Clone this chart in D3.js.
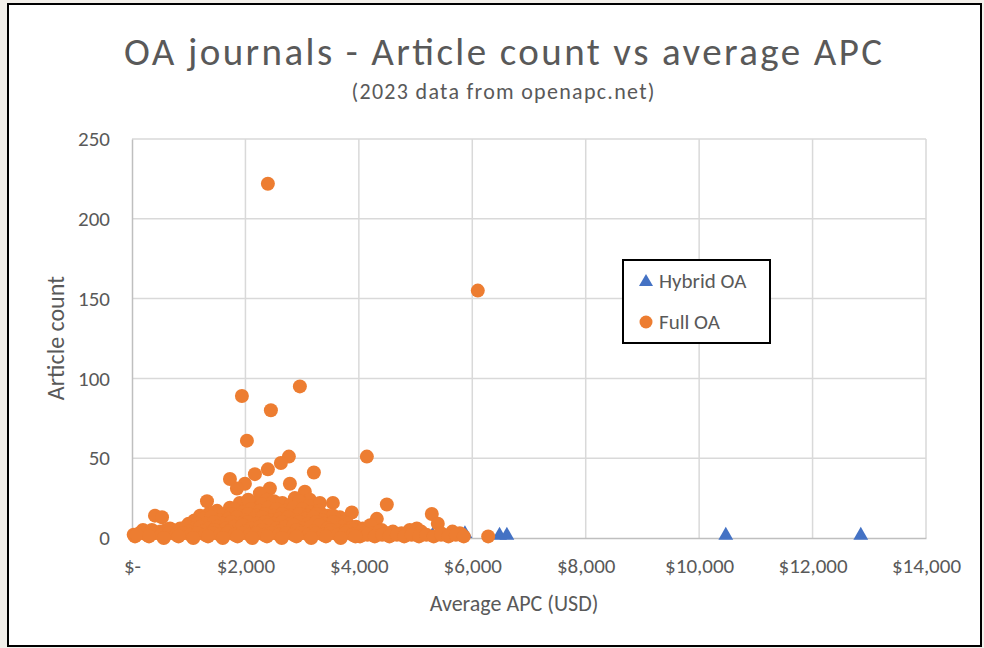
<!DOCTYPE html>
<html>
<head>
<meta charset="utf-8">
<script src="https://cdn.jsdelivr.net/npm/d3@7"></script>
<style>
  body { margin: 0; background: #f2efea; }
  svg { display: block; font-family: Carlito, Lato, sans-serif; }
</style>
</head>
<body>
<svg id="chart" width="984" height="648"></svg>
<script>
// Hybrid OA journals (avg APC in USD, article count)
const hybridApc   = [4150, 4990, 5300, 5600, 5870, 6480, 6610, 10470, 12850];
const hybridCount = [1, 1, 1, 1, 2, 1, 1, 1, 1];

// Full OA journals - outliers first, then the crowded part near zero
const fullApc = [
  2396, 6097, 2960, 1938, 2449, 2026, 4141, 2766, 2625, 2396, 2167, 3207, 1727, 1991, 2784,
  1850, 2431, 3048, 2255, 1322, 2872, 3136, 2202, 3313, 3542, 4493, 1727, 2026, 2378, 3876,
  405, 529, 1233, 4317, 5286, 3665, 5392, 4070, 5022, 4898, 5780, 6280, 5815, 1022, 670, 194, 53,
  1900, 2050, 2300, 2500, 2650, 2800, 2950, 3100,
  1500, 1650, 1800, 1950, 2100, 2250, 2400, 2550, 2700, 2850, 3000, 3150, 3300, 3450, 3600, 3750,
  1200, 1350, 1450, 1600, 1750, 1900, 2050, 2200, 2350, 2500, 2650, 2800, 2950, 3100, 3250, 3400, 3550,
  1100, 1250, 1400, 1550, 1700, 1850, 2000, 2150, 2300, 2450, 2600, 2750, 2900, 3050, 3200, 3350,
  3500, 3650, 3800, 3950, 4200,
  1000, 1150, 1300, 1450, 1600, 1750, 1900, 2050, 2200, 2350, 2500, 2650, 2800, 2950, 3100, 3250,
  3400, 3550, 3700, 3850, 4000,
  700, 850, 950, 1100, 1200, 1350, 1500, 1650, 1800, 1950, 2100, 2250, 2400, 2550, 2700, 2850,
  3000, 3150, 3300, 3450, 3600, 3750, 3900, 4050, 4250, 4400, 4600,
  200, 350, 500, 600, 750, 1000, 1250, 1450, 1700, 2000, 2300, 2600, 2900, 3200, 3500, 3800,
  4100, 4350, 4500, 4750, 5100, 5450, 5650,
  30, 130, 260, 390, 520, 650, 780, 900, 1030, 1160, 1290, 1420, 1550, 1680, 1810, 1940, 2070,
  2200, 2330, 2460, 2590, 2720, 2850, 2980, 3110, 3240, 3370, 3500, 3630, 3760, 3890, 4020, 4150,
  4280, 4410, 4540, 4670, 4800, 4930, 5060, 5190, 5320, 5450, 5580, 5710, 5850,
  80, 300, 560, 820, 1080, 1340, 1600, 1860, 2120, 2380, 2640, 2900, 3160, 3420, 3680, 3940
];
const fullCount = [
  222, 155, 95, 89, 80, 61, 51, 51, 47, 43, 40, 41, 37, 34, 34,
  31, 31, 29, 28, 23, 25, 24, 22, 22, 22, 21, 19, 21, 24, 16,
  14, 13, 12, 12, 15, 13, 9, 6, 6, 5, 3, 1, 2, 8, 6, 5, 1,
  22, 24, 21, 23, 22, 21, 23, 20,
  17, 15, 18, 16, 18, 17, 19, 18, 17, 19, 18, 16, 17, 14, 11, 10,
  14, 15, 16, 14, 15, 14, 15, 14, 15, 14, 15, 14, 15, 14, 15, 13, 14,
  11, 12, 13, 11, 12, 13, 11, 12, 13, 11, 12, 13, 11, 12, 13, 11,
  9, 8, 9, 7, 8,
  9, 9, 9, 10, 9, 10, 9, 10, 9, 10, 9, 10, 9, 10, 9, 10,
  9, 10, 7, 6, 5,
  5, 6, 7, 6, 7, 6, 7, 6, 7, 8, 6, 7, 8, 6, 7, 8,
  6, 7, 8, 6, 5, 4, 5, 4, 3, 5, 4,
  4, 5, 4, 5, 4, 4, 4, 5, 4, 4, 5, 4, 5, 4, 5, 4,
  3, 4, 3, 3, 4, 3, 4,
  2, 3, 2, 3, 2, 3, 2, 3, 2, 3, 2, 3, 2, 3, 2, 3, 2,
  3, 2, 3, 2, 3, 2, 3, 2, 3, 2, 3, 2, 3, 2, 1, 2,
  1, 2, 1, 2, 1, 2, 1, 2, 1, 2, 1, 2, 1, 2, 1,
  0, 1, 0, 1, 0, 1, 0, 1, 0, 1, 0, 1, 0, 1, 0, 1
];

const xTicks = [0, 2000, 4000, 6000, 8000, 10000, 12000, 14000];
const yTicks = [0, 50, 100, 150, 200, 250];

const svg = d3.select("#chart");
const textCol = "#595959";

// chart frame
svg.append("rect")
  .attr("x", 8).attr("y", 4).attr("width", 973).attr("height", 642)
  .attr("fill", "#fff").attr("stroke", "#000").attr("stroke-width", 2);

const x = d3.scaleLinear().domain([0, 14000]).range([132, 926]);
const y = d3.scaleLinear().domain([0, 250]).range([538, 139]);

// gridlines
svg.append("g").selectAll("line").data(yTicks.filter(d => d > 0)).enter().append("line")
  .attr("x1", x(0)).attr("x2", x(14000))
  .attr("y1", d => y(d)).attr("y2", d => y(d))
  .attr("stroke", "#d9d9d9").attr("stroke-width", 1.5);
svg.append("g").selectAll("line").data(xTicks.filter(d => d > 0)).enter().append("line")
  .attr("x1", d => x(d)).attr("x2", d => x(d))
  .attr("y1", y(0)).attr("y2", y(250))
  .attr("stroke", "#d9d9d9").attr("stroke-width", 1.5);

// axes
const fmt = d3.format(",");
const xAxis = svg.append("g").attr("transform", "translate(0," + y(0) + ")")
  .call(d3.axisBottom(x).tickValues(xTicks).tickSize(0).tickPadding(20)
    .tickFormat(d => d === 0 ? "$-" : "$" + fmt(d)));
const yAxis = svg.append("g").attr("transform", "translate(" + x(0) + ",0)")
  .call(d3.axisLeft(y).tickValues(yTicks).tickSize(0).tickPadding(22));
[xAxis, yAxis].forEach(a => {
  a.select(".domain").attr("stroke", "#bfbfbf").attr("stroke-width", 1.5);
  a.selectAll("text").attr("fill", textCol).attr("font-size", 21).attr("font-family", "Carlito, Lato, sans-serif");
});

// hybrid first, full OA on top
svg.append("g").selectAll("path").data(hybridApc).enter().append("path")
  .attr("d", d3.symbol().type(d3.symbolTriangle).size(95))
  .attr("transform", (d, i) => "translate(" + x(d) + "," + (y(hybridCount[i]) - 1) + ")")
  .attr("fill", "#4472c4");

svg.append("g").selectAll("circle").data(fullApc).enter().append("circle")
  .attr("cx", d => x(d))
  .attr("cy", (d, i) => y(fullCount[i]))
  .attr("r", 7)
  .attr("fill", "#ed7d31");

// titles
svg.append("text").attr("x", 503).attr("y", 65).attr("text-anchor", "middle")
  .attr("font-size", 39).attr("fill", textCol)
  .attr("textLength", 758).attr("lengthAdjust", "spacing")
  .text("OA journals - Article count vs average APC");
svg.append("text").attr("x", 503).attr("y", 99).attr("text-anchor", "middle")
  .attr("font-size", 22).attr("fill", textCol)
  .attr("textLength", 303).attr("lengthAdjust", "spacing")
  .text("(2023 data from openapc.net)");
svg.append("text").attr("x", 514).attr("y", 611).attr("text-anchor", "middle")
  .attr("font-size", 22).attr("fill", textCol)
  .text("Average APC (USD)");
svg.append("text").attr("transform", "translate(64,338) rotate(-90)").attr("text-anchor", "middle")
  .attr("font-size", 24).attr("fill", textCol)
  .text("Article count");

// legend
const lg = svg.append("g");
lg.append("rect").attr("x", 623).attr("y", 260).attr("width", 147).attr("height", 83)
  .attr("fill", "#fff").attr("stroke", "#000").attr("stroke-width", 2);
lg.append("path").attr("d", d3.symbol().type(d3.symbolTriangle).size(85))
  .attr("transform", "translate(646,282)").attr("fill", "#4472c4");
lg.append("circle").attr("cx", 646).attr("cy", 322).attr("r", 6.5).attr("fill", "#ed7d31");
lg.append("text").attr("x", 659).attr("y", 288).attr("font-size", 21).attr("fill", textCol).text("Hybrid OA");
lg.append("text").attr("x", 659).attr("y", 329).attr("font-size", 21).attr("fill", textCol).text("Full OA");
</script>
</body>
</html>
